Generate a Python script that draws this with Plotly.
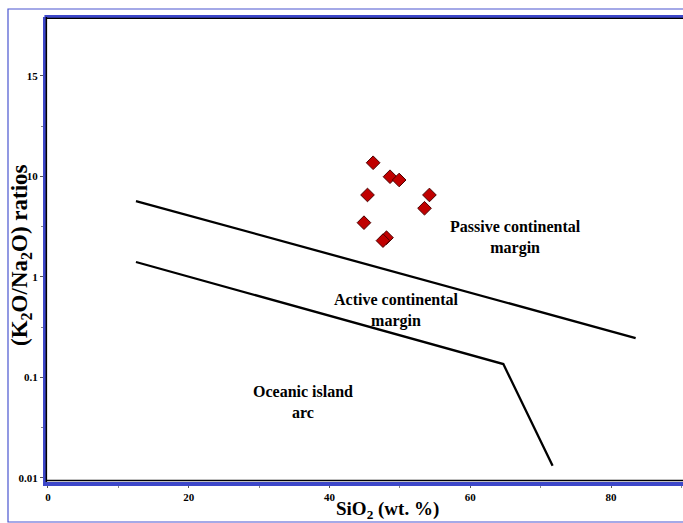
import plotly.graph_objects as go
import math

# Sample data (SiO2 wt.%, K2O/Na2O ratio)
sio2 = [46.2, 48.6, 49.9, 45.4, 54.2, 53.5, 44.9, 48.1, 47.6]
k2o_na2o = [13.7, 9.95, 9.23, 6.55, 6.55, 4.83, 3.47, 2.46, 2.30]

# Discrimination boundaries
upper_x = [12.5, 83.5]
upper_y = [5.70, 0.247]
lower_x = [12.5, 64.7, 71.7]
lower_y = [1.41, 0.136, 0.0132]

# Field labels (x, y value)
field_text = ["Passive continental<br>margin", "Active continental<br>margin", "Oceanic island<br>arc"]
field_x = [66.5, 49.45, 36.2]
field_y = [2.45, 0.459, 0.0564]

x_tickvals = [0, 20, 40, 60, 80]
y_tickvals = [0.01, 0.1, 1, 10, 100]
y_ticktext = ["0.01", "0.1", "1", "10", "15"]

SERIF = "Liberation Serif"
BLUE = "#3d47c9"

fig = go.Figure()
fig.add_trace(go.Scatter(x=upper_x, y=upper_y, mode="lines",
                         line=dict(color="black", width=2.3), showlegend=False, hoverinfo="skip"))
fig.add_trace(go.Scatter(x=lower_x, y=lower_y, mode="lines",
                         line=dict(color="black", width=2.3), showlegend=False, hoverinfo="skip"))
fig.add_trace(go.Scatter(x=sio2, y=k2o_na2o, mode="markers",
                         marker=dict(symbol="diamond", size=10.5, color="#c00000",
                                     line=dict(color="#4a0000", width=1)),
                         showlegend=False))

for t, fx, fy in zip(field_text, field_x, field_y):
    fig.add_annotation(x=fx, y=math.log10(fy), xref="x", yref="y", text=t, showarrow=False,
                       xanchor="center", yanchor="middle",
                       font=dict(family=SERIF, size=16, color="black", weight="bold"))

# Axis titles
fig.add_annotation(x=(21 - 47) / 636, y=(482 - 255) / 465, xref="paper", yref="paper",
                   xanchor="center", yanchor="middle",
                   text="(K<sub>2</sub>O/Na<sub>2</sub>O) ratios", textangle=-90, showarrow=False,
                   font=dict(family=SERIF, size=23, color="black", weight="bold"))
fig.add_annotation(x=(387 - 47) / 636, y=(482 - 510) / 465, xref="paper", yref="paper",
                   xanchor="center", yanchor="middle",
                   text="SiO<sub>2</sub> (wt. %)", showarrow=False,
                   font=dict(family=SERIF, size=19, color="black", weight="bold"))

# Frame lines
shapes = [
    dict(type="rect", xref="paper", yref="paper", x0=(8 - 47) / 636, x1=1.05,
         y0=(482 - 522) / 465, y1=(482 - 9) / 465, line=dict(color="#4a55d0", width=1.2), layer="below"),
    dict(type="line", xref="paper", yref="paper", x0=-0.004, x1=1.0, y0=1.0, y1=1.0,
         line=dict(color=BLUE, width=4)),
    dict(type="line", xref="paper", yref="paper", x0=0, x1=1.0, y0=0.997, y1=0.997,
         line=dict(color="black", width=1.2)),
    dict(type="line", xref="paper", yref="paper", x0=0, x1=1.0, y0=0.003, y1=0.003,
         line=dict(color="black", width=1.5)),
    dict(type="line", xref="paper", yref="paper", x0=-0.001, x1=-0.001, y0=0, y1=1,
         line=dict(color="black", width=1.5)),
]

fig.update_layout(
    width=683, height=523,
    margin=dict(l=47, r=0, t=17, b=41),
    paper_bgcolor="white", plot_bgcolor="white",
    shapes=shapes,
    xaxis=dict(range=[-0.14, 90.23], tickvals=x_tickvals, ticks="outside", ticklen=2,
               tickcolor="#555555", showgrid=False, zeroline=False,
               showline=True, linecolor=BLUE, linewidth=4,
               minor=dict(tickvals=[10, 30, 50, 70, 90], ticks="outside", ticklen=2, tickcolor="#888888"),
               tickfont=dict(family=SERIF, size=11, color="black", weight="bold")),
    yaxis=dict(type="log", range=[-2.04, 2.587], tickvals=y_tickvals, ticktext=y_ticktext,
               ticks="outside", ticklen=3, tickcolor="#555555", showgrid=False, zeroline=False,
               showline=True, linecolor=BLUE, linewidth=4,
               minor=dict(tickvals=[10 ** -1.5, 10 ** -0.5, 10 ** 0.5, 10 ** 1.5], ticks="outside",
                          ticklen=2, tickcolor="#888888"),
               tickfont=dict(family=SERIF, size=11, color="black", weight="bold")),
)

fig.write_html("out.html")
